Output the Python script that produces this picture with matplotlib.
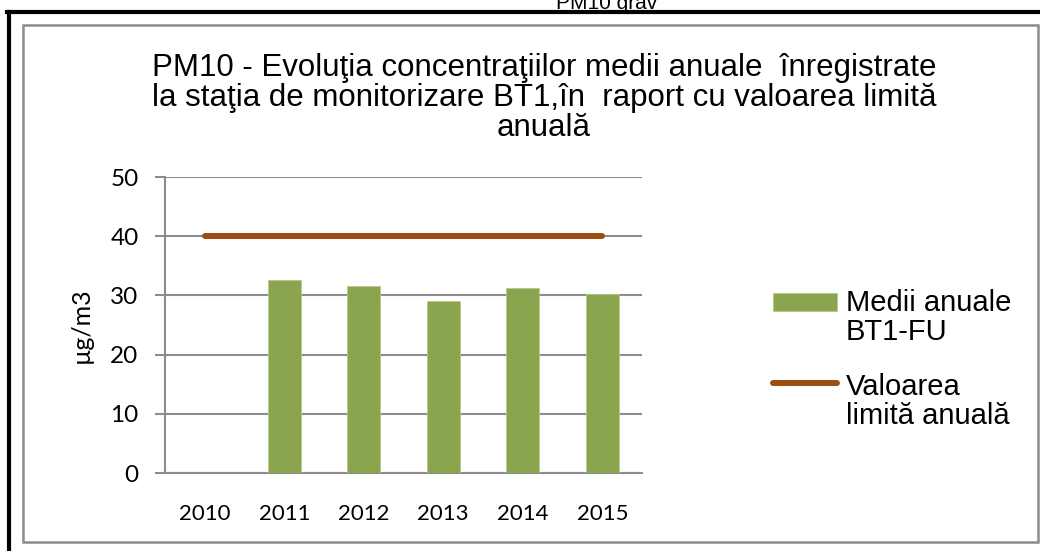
import matplotlib
matplotlib.use('Agg')
import matplotlib.pyplot as plt
from matplotlib.lines import Line2D
from matplotlib.patches import Rectangle

# date
ani = ['2010', '2011', '2012', '2013', '2014', '2015']
medii_bt1 = [0, 32.6, 31.6, 29.1, 31.2, 30.2]
valoare_limita = [40, 40, 40, 40, 40, 40]

titlu = ('PM10 - Evoluţia concentraţiilor medii anuale  înregistrate\n'
         'la staţia de monitorizare BT1,în  raport cu valoarea limită\n'
         'anuală')

verde = '#8BA54F'
maro = '#9E4D10'
gri = '#8C8C8C'

W, H = 1040, 551
fig = plt.figure(figsize=(W / 100, H / 100), dpi=100)
ax = fig.add_axes([165 / W, 1 - 473 / H, (642 - 165) / W, (473 - 177) / H])

x = range(len(ani))
bare = ax.bar(x, medii_bt1, width=0.42, color=verde, edgecolor='#B5C98F',
              linewidth=0.6, zorder=3)
linie, = ax.plot(x, valoare_limita, color=maro, linewidth=4.3,
                 solid_capstyle='round', zorder=4)

ax.set_xlim(-0.5, len(ani) - 0.5)
ax.set_ylim(0, 50)
ax.set_yticks([0, 10, 20, 30, 40, 50])
ax.set_xticks(list(x))
ax.set_xticklabels(ani)

ax.grid(axis='y', color=gri, linewidth=1.5, zorder=1)
for s in ['top', 'right']:
    ax.spines[s].set_visible(False)
for s in ['left', 'bottom']:
    ax.spines[s].set_color(gri)
    ax.spines[s].set_linewidth(1.5)
ax.tick_params(axis='y', direction='out', length=7, width=1.5, color=gri,
               pad=12, labelsize=17.5)
ax.tick_params(axis='x', length=0, pad=22, labelsize=16)
for lbl in ax.get_xticklabels() + ax.get_yticklabels():
    lbl.set_family('Lato')

ax.set_ylabel('µg/m3', family='Lato', fontsize=18, labelpad=13)

leg = ax.legend([bare, linie], ['Medii anuale\nBT1-FU', 'Valoarea\nlimită anuală'],
                loc='upper left', bbox_to_anchor=(1.25, 0.66), frameon=False,
                prop={'family': 'Liberation Sans', 'size': 21},
                handlelength=2.2, handleheight=0.6, handletextpad=0.3,
                labelspacing=0.9, borderaxespad=0)
for t in leg.get_texts():
    t.set_linespacing(1.05)
# simbolurile din legenda stau in dreptul primului rand de text
h_bara, h_linie = leg.legend_handles
h_bara.set_y(h_bara.get_y() + 12)
h_linie.set_ydata([y + 14 for y in h_linie.get_ydata()])

fig.text(544 / W, 1 - 98 / H, titlu, ha='center', va='center',
         family=['Liberation Sans Narrow', 'Liberation Sans'], fontsize=22.5,
         linespacing=0.98)

# titlul de sus, taiat
fig.text(607 / W, 1 - 9 / H, 'PM10 grav', ha='center', va='baseline',
         family='Liberation Sans', fontsize=15)

# chenare
fig.add_artist(Rectangle((23 / W, 1 - 542 / H), (1038 - 23) / W, (542 - 25) / H,
                         transform=fig.transFigure, fill=False, edgecolor=gri,
                         linewidth=1.8))
fig.add_artist(Line2D([7 / W, 1], [1 - 11.5 / H, 1 - 11.5 / H],
                      transform=fig.transFigure, color='black', linewidth=3))
fig.add_artist(Line2D([9 / W, 9 / W], [0, 1 - 11.5 / H],
                      transform=fig.transFigure, color='black', linewidth=3))

fig.savefig('out.png', dpi=100)
